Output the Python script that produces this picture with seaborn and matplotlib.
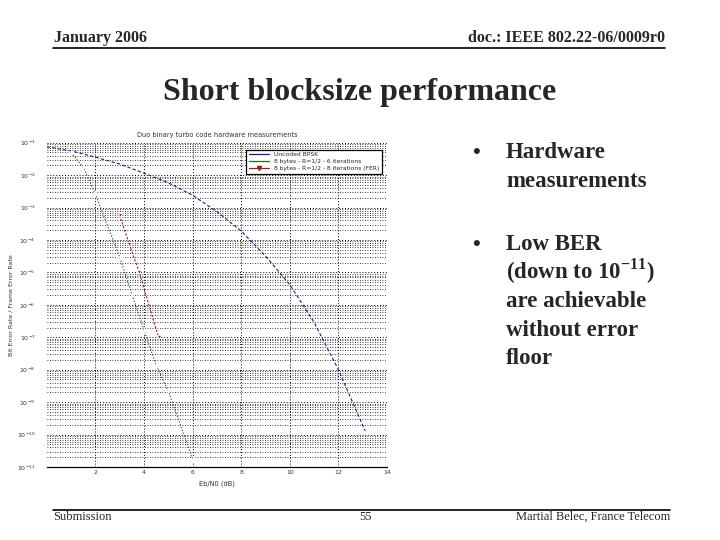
import pandas as pd
import seaborn as sns
import matplotlib.pyplot as plt
from matplotlib.lines import Line2D
from matplotlib.ticker import LogLocator, NullFormatter, FixedLocator

# values
ebn0_uncoded = [0, 1, 2, 3, 4, 5, 6, 7, 8, 9, 10, 11, 12, 13.1]
ber_uncoded = [0.075, 0.056, 0.036, 0.022, 0.0115, 0.0058, 2.4e-3, 7.5e-4,
               1.9e-4, 3.2e-5, 4.2e-6, 2.9e-7, 1.0e-8, 1.3e-10]

ebn0_6it = [1.0, 1.5, 2.0, 3.0, 3.5, 4.0, 4.5, 5.0, 6.0]
ber_6it = [0.05, 0.018, 2.6e-3, 3.0e-5, 2.2e-6, 1.7e-7, 1.4e-8, 2.2e-9, 1.8e-11]

ebn0_fer = [3.0, 3.4, 3.8, 4.6]
fer_8it = [5.9e-4, 7.3e-5, 1.05e-5, 1.0e-7]

series_names = ["Uncoded BPSK",
                "8 bytes - R=1/2 - 6 iterations",
                "8 bytes - R=1/2 - 8 iterations (FER)"]
series_colors = ['#1c1c7a', '#1d6b1d', '#a01c1c']
x_ticks = [2, 4, 6, 8, 10, 12, 14]

sns.set_style("white")
plt.rcParams['font.family'] = ['DejaVu Sans']
plt.rcParams['mathtext.fontset'] = 'custom'
plt.rcParams['mathtext.rm'] = 'Liberation Serif'
plt.rcParams['mathtext.bf'] = 'Liberation Serif:bold'

W, H = 720, 540
fig = plt.figure(figsize=(7.2, 5.4), dpi=100)


def fx(px):
    return px / W


def fy(py):
    return 1 - py / H


# ---- slide header / footer ----
serif = 'Liberation Serif'
fig.text(fx(54), fy(42), "January 2006", family=serif, weight='bold',
         fontsize=11.5, va='baseline', ha='left')
fig.text(fx(665), fy(42), "doc.: IEEE 802.22-06/0009r0", family=serif,
         weight='bold', fontsize=11.5, va='baseline', ha='right')
fig.add_artist(Line2D([fx(53), fx(665)], [fy(48), fy(48)], color='black', lw=1.2))

fig.text(0.5, fy(100), "Short blocksize performance", family=serif,
         weight='bold', fontsize=23, va='baseline', ha='center')

fig.add_artist(Line2D([fx(53), fx(670)], [fy(510), fy(510)], color='black', lw=1.2))
fig.text(fx(53), fy(520), "Submission", family=serif, fontsize=9, va='baseline')
fig.text(fx(365), fy(520), "55", family=serif, fontsize=9, va='baseline', ha='center')
fig.text(fx(670), fy(520), "Martial Belec, France Telecom", family=serif,
         fontsize=9, va='baseline', ha='right')

# ---- bullets ----
bullets = [
    ["Hardware", "measurements"],
    ["Low BER", r"(down to 10$^{\mathbf{-11}}$)", "are achievable",
     "without error", "floor"],
]
bullet_y = [158, 250]
for lines, y0 in zip(bullets, bullet_y):
    fig.text(fx(472), fy(y0), "\u2022", family=serif, weight='bold',
             fontsize=16, va='baseline')
    for i, line in enumerate(lines):
        fig.text(fx(506), fy(y0 + i * 28.6), line, family=serif,
                 weight='bold', fontsize=16.5, va='baseline')

# ---- chart ----
ax_l, ax_r, ax_t, ax_b = 46.7, 387, 142.7, 467
ax = fig.add_axes([fx(ax_l), fy(ax_b), fx(ax_r - ax_l), (ax_b - ax_t) / H])

df_unc = pd.DataFrame({"ebn0": ebn0_uncoded, "err": ber_uncoded})
df_6it = pd.DataFrame({"ebn0": ebn0_6it, "err": ber_6it})
df_fer = pd.DataFrame({"ebn0": ebn0_fer, "err": fer_8it})

sns.lineplot(data=df_unc, x="ebn0", y="err", ax=ax, color=series_colors[0],
             lw=0.8, linestyle=(0, (3, 2)), legend=False)
sns.lineplot(data=df_6it, x="ebn0", y="err", ax=ax, color=series_colors[1],
             lw=0.8, linestyle=(0, (1.2, 1.5)), marker='+', markersize=5,
             markeredgewidth=0.9, legend=False)
sns.lineplot(data=df_fer, x="ebn0", y="err", ax=ax, color=series_colors[2],
             lw=0.8, linestyle=(0, (2, 1.5)), marker='v', markersize=3,
             markeredgewidth=0.6, legend=False)

ax.set_yscale('log')
ax.set_xlim(0, 14)
ax.set_ylim(1e-11, 1e-1)
ax.xaxis.set_major_locator(FixedLocator(x_ticks))
ax.yaxis.set_major_locator(LogLocator(base=10, numticks=20))
ax.yaxis.set_minor_locator(LogLocator(base=10, subs=range(2, 10), numticks=20))
ax.yaxis.set_minor_formatter(NullFormatter())

ax.grid(True, which='major', axis='both', color='black', linestyle=(0, (1, 2)), lw=0.7)
ax.grid(True, which='minor', axis='y', color='black', linestyle=(0, (1, 2)), lw=0.6)
ax.tick_params(axis='both', which='both', length=0, labelsize=4.5,
               labelcolor='#333333', pad=2)
ax.tick_params(axis='y', pad=8)

for side in ['top', 'right', 'left']:
    ax.spines[side].set_visible(False)
ax.spines['bottom'].set_color('black')
ax.spines['bottom'].set_linewidth(0.9)

ax.set_title("Duo binary turbo code hardware measurements", fontsize=4.8,
             color='#333333', pad=4)
ax.set_xlabel("Eb/N0 (dB)", fontsize=4.8, color='#333333', labelpad=4)
ax.set_ylabel("Bit Error Rate / Frame Error Rate", fontsize=4.5,
              color='#333333', labelpad=2)

handles = [
    Line2D([], [], color=series_colors[0], lw=0.9),
    Line2D([], [], color=series_colors[1], lw=0.9),
    Line2D([], [], color=series_colors[2], lw=0.9, marker='v', markersize=3),
]
leg = ax.legend(handles, series_names, loc='upper right',
                bbox_to_anchor=(0.994, 0.987), fontsize=4.3, frameon=True,
                fancybox=False, framealpha=1, edgecolor='black',
                handlelength=3.5, borderpad=0.4, labelspacing=0.3)
leg.get_frame().set_linewidth(0.9)

fig.savefig("out.png", dpi=100)
